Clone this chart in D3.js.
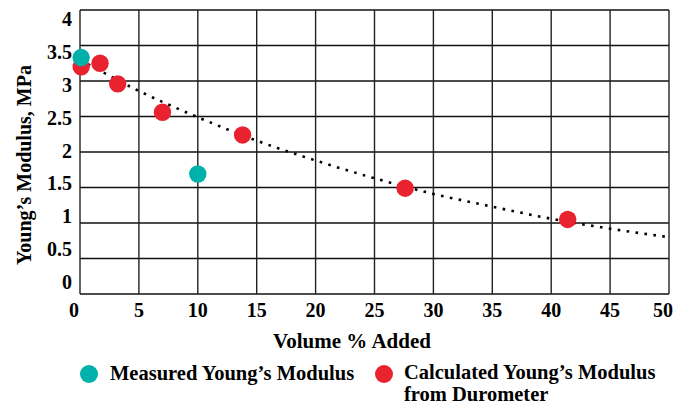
<!DOCTYPE html>
<html>
<head>
<meta charset="utf-8">
<script src="https://cdn.jsdelivr.net/npm/d3@7"></script>
<style>
  html, body { margin: 0; padding: 0; background: #fff; }
  svg { display: block; }
</style>
</head>
<body>
<svg id="chart" width="690" height="404" font-family="Liberation Serif" font-weight="bold"></svg>
<script>
// ---- Data ----
const xTicks = [0, 5, 10, 15, 20, 25, 30, 35, 40, 45, 50];
const yTicks = [0, 0.5, 1, 1.5, 2, 2.5, 3, 3.5, 4];
const yTickLabels = ["0", "0.5", "1", "1.5", "2", "2.5", "3", "3.5", "4"];

const measuredX = [0.1, 10];
const measuredY = [3.33, 1.69];

const calculatedX = [0.1, 1.7, 3.2, 7.0, 13.8, 27.6, 41.4];
const calculatedY = [3.20, 3.25, 2.96, 2.56, 2.24, 1.49, 1.05];

// dotted trend line, read at regular positions
const trendX = [0, 5, 10, 15, 20, 25, 30, 35, 40, 45, 50];
const trendY = [3.30, 2.86, 2.49, 2.16, 1.88, 1.63, 1.41, 1.23, 1.06, 0.92, 0.80];

const seriesNames = ["Measured Young\u2019s Modulus", "Calculated Young\u2019s Modulus", "from Durometer"];
const xTitle = "Volume % Added";
const yTitle = "Young\u2019s Modulus, MPa";
const colors = { measured: "#00B0AA", calculated: "#E8232F" };

// ---- Layout ----
const svg = d3.select("#chart");
const pL = 80, pR = 669, pT = 10, pB = 294;
const FONT = "Liberation Serif";

const x = d3.scaleLinear().domain([0, 50]).range([pL, pR]);
const y = d3.scaleLinear().domain([0, 4]).range([pB, pT]);
// tick labels in the reference are spaced slightly tighter than the grid
const yLab = d3.scaleLinear().domain([0, 4]).range([282, 19]);

// grid
const g = svg.append("g");
g.selectAll("line.h").data(yTicks).join("line")
  .attr("x1", pL).attr("x2", pR)
  .attr("y1", d => y(d)).attr("y2", d => y(d))
  .attr("stroke", "#111").attr("stroke-width", 1.4);
g.selectAll("line.v").data(xTicks).join("line")
  .attr("y1", pT).attr("y2", pB)
  .attr("x1", d => x(d)).attr("x2", d => x(d))
  .attr("stroke", "#222").attr("stroke-width", 1.4);

// y tick labels
svg.append("g").selectAll("text").data(yTicks).join("text")
  .attr("x", 72).attr("y", d => yLab(d))
  .attr("dy", "0.35em")
  .attr("text-anchor", "end")
  .attr("font-family", FONT).attr("font-weight", "bold")
  .attr("font-size", 20)
  .text((d, i) => yTickLabels[i]);

// x tick labels
svg.append("g").selectAll("text").data(xTicks).join("text")
  .attr("x", (d, i) => x(d) + (i === 0 ? -6 : i === xTicks.length - 1 ? -6 : 0))
  .attr("y", 310)
  .attr("dy", "0.35em")
  .attr("text-anchor", "middle")
  .attr("font-family", FONT).attr("font-weight", "bold")
  .attr("font-size", 20)
  .text(d => d);

// axis titles
svg.append("text")
  .attr("transform", "translate(31,165) rotate(-90)")
  .attr("text-anchor", "middle")
  .attr("font-family", FONT).attr("font-weight", "bold")
  .attr("font-size", 20)
  .text(yTitle);
svg.append("text")
  .attr("x", 352).attr("y", 348)
  .attr("text-anchor", "middle")
  .attr("font-family", FONT).attr("font-weight", "bold")
  .attr("font-size", 21)
  .text(xTitle);

// trend line
const trend = trendX.map((d, i) => [d, trendY[i]]);
svg.append("path")
  .datum(trend)
  .attr("fill", "none")
  .attr("stroke", "#000")
  .attr("stroke-width", 2.6)
  .attr("stroke-dasharray", "2.6 6.4")
  .attr("d", d3.line().x(d => x(d[0])).y(d => y(d[1])).curve(d3.curveMonotoneX));

// points
const calc = calculatedX.map((d, i) => [d, calculatedY[i]]);
const meas = measuredX.map((d, i) => [d, measuredY[i]]);
svg.append("g").selectAll("circle").data(calc).join("circle")
  .attr("cx", d => x(d[0])).attr("cy", d => y(d[1])).attr("r", 8.7)
  .attr("fill", colors.calculated);
svg.append("g").selectAll("circle").data(meas).join("circle")
  .attr("cx", d => x(d[0])).attr("cy", d => y(d[1])).attr("r", 8.7)
  .attr("fill", colors.measured);

// legend
const leg = svg.append("g").attr("font-family", FONT).attr("font-weight", "bold").attr("font-size", 20.5);
leg.append("circle").attr("cx", 89).attr("cy", 374).attr("r", 9).attr("fill", colors.measured);
leg.append("text").attr("x", 110).attr("y", 380).text(seriesNames[0]);
leg.append("circle").attr("cx", 384).attr("cy", 374).attr("r", 9).attr("fill", colors.calculated);
leg.append("text").attr("x", 404).attr("y", 379).text(seriesNames[1]);
leg.append("text").attr("x", 404).attr("y", 401).text(seriesNames[2]);
</script>
</body>
</html>
